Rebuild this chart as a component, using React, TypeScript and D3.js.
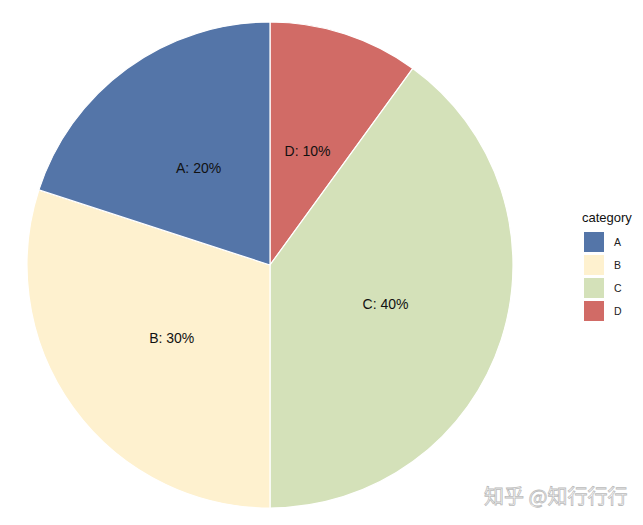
import React from 'react'
import { pie, arc, scaleOrdinal } from 'd3'

const categories = ['A', 'B', 'C', 'D']
const shares = [20, 30, 40, 10]
const colors = ['#5475a8', '#fef1cf', '#d4e1b9', '#d16b66']

const W = 643, H = 525
const cx = 270, cy = 265, R = 243

export default function App() {
  const color = scaleOrdinal<string, string>().domain(categories).range(colors)
  const data = categories.map((c, i) => ({ cat: c, v: shares[i] }))
  // ggplot polar stacks counter-clockwise from the top; reverse so d3 draws clockwise D, C, B, A
  const slices = pie<{ cat: string; v: number }>()
    .value(d => d.v)
    .sort(null)(data.slice().reverse())
  const arcGen = arc<any>().innerRadius(0).outerRadius(R)
  const labelArc = arc<any>().innerRadius(R / 2).outerRadius(R / 2)

  return (
    <svg width={W} height={H} style={{ position: 'absolute', left: 0, top: 0, background: '#fff' }}
      fontFamily="Liberation Sans, Arial, sans-serif">
      <g transform={`translate(${cx},${cy})`}>
        {slices.map(s => (
          <path key={s.data.cat} d={arcGen(s) as string} fill={color(s.data.cat)} stroke="#fff" strokeWidth={1.2} />
        ))}
        {slices.map(s => {
          const [x, y] = labelArc.centroid(s)
          return (
            <text key={s.data.cat} x={x} y={y + 1.5} textAnchor="middle" dominantBaseline="central" fontSize={14} fill="#111">
              {`${s.data.cat}: ${s.data.v}%`}
            </text>
          )
        })}
      </g>
      <g transform="translate(582,0)">
        <text x={0} y={222} fontSize={13} fill="#111">category</text>
        {categories.map((c, i) => (
          <g key={c} transform={`translate(2,${232 + i * 23})`}>
            <rect width={20} height={20} fill={color(c)} />
            <text x={30} y={10} dominantBaseline="central" fontSize={10.5} fill="#222">{c}</text>
          </g>
        ))}
      </g>
      <text x={484} y={504} fontSize={20} fill="#fff" stroke="#bbb" strokeWidth={0.8}
        fontFamily="Noto Sans CJK SC, sans-serif">知乎 @知行行行</text>
    </svg>
  )
}
